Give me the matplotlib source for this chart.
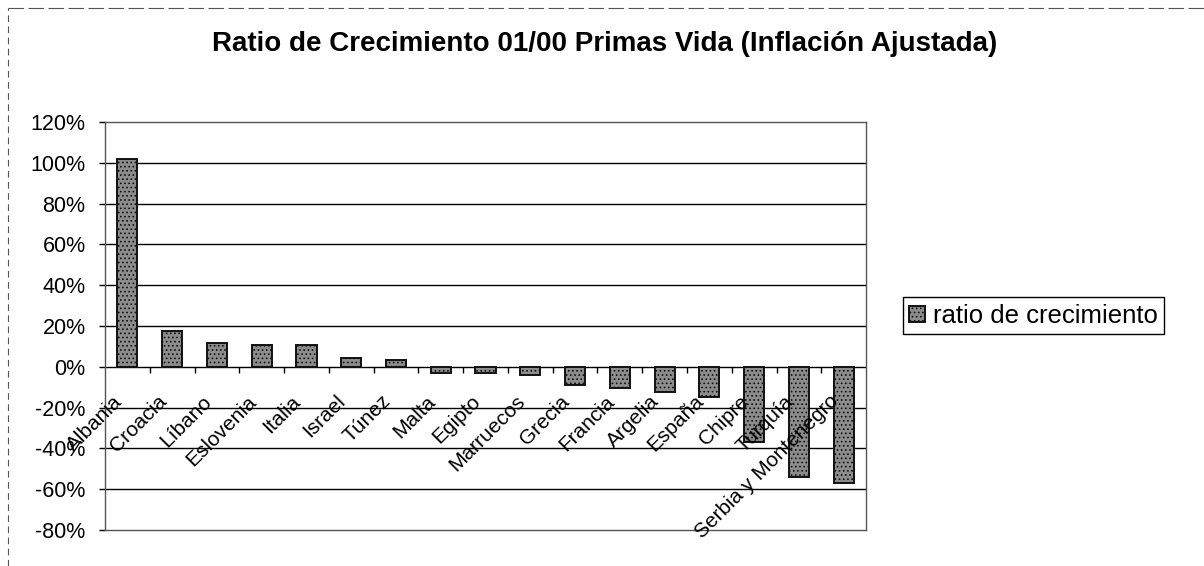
import matplotlib
matplotlib.use('Agg')
import matplotlib.pyplot as plt
from matplotlib.lines import Line2D
import numpy as np

# Data (growth ratio, fraction)
paises = ['Albania', 'Croacia', 'Líbano', 'Eslovenia', 'Italia', 'Israel', 'Túnez',
          'Malta', 'Egipto', 'Marruecos', 'Grecia', 'Francia', 'Argelia', 'España',
          'Chipre', 'Turquía', 'Serbia y Montenegro']
ratio = [1.02, 0.173, 0.118, 0.107, 0.107, 0.043, 0.034,
         -0.032, -0.032, -0.041, -0.088, -0.104, -0.123, -0.149,
         -0.37, -0.538, -0.568]
yticks = [-0.8, -0.6, -0.4, -0.2, 0.0, 0.2, 0.4, 0.6, 0.8, 1.0, 1.2]

plt.rcParams['font.family'] = ['Liberation Sans', 'DejaVu Sans']
plt.rcParams['hatch.linewidth'] = 0.7

fig = plt.figure(figsize=(12.04, 5.66), dpi=100)
ax = fig.add_axes([0.0872, 0.0636, 0.6321, 0.7209])

x = np.arange(len(paises))
ax.bar(x, ratio, width=0.45, color='#8c8c8c', edgecolor='#111111', linewidth=1.4,
       hatch='....', label='ratio de crecimiento', zorder=3)

ax.set_xlim(-0.5, len(paises) - 0.5)
ax.set_ylim(-0.8, 1.2)
ax.set_yticks(yticks)
ax.set_yticklabels([f'{int(round(v * 100))}%' for v in yticks], fontsize=15.5)
ax.tick_params(axis='y', length=4, width=1, pad=10)
ax.set_xticks([])
for v in yticks[1:-1]:
    ax.axhline(v, color='black', linewidth=1.0, zorder=1)
for s in ax.spines.values():
    s.set_color('#555555')
    s.set_linewidth(1.0)

# small category ticks hanging below the zero line
ax.plot(x[:-1] + 0.5, np.zeros(len(x) - 1), linestyle='none', marker=3,
        markersize=4, color='black', zorder=2)

# category labels hang off the zero line, rotated 45 degrees
for i, name in enumerate(paises):
    ax.annotate(name, xy=(i, 0), xycoords='data', xytext=(-11, -18),
                textcoords='offset points', ha='right', va='top',
                rotation=45, rotation_mode='anchor', fontsize=15, zorder=4)

fig.text(0.502, 0.922, 'Ratio de Crecimiento 01/00 Primas Vida (Inflación Ajustada)',
         ha='center', va='center', fontsize=20, fontweight='bold')

leg = fig.legend(loc='center left', bbox_to_anchor=(0.75, 0.442), fontsize=18.5,
                 fancybox=False, framealpha=1, edgecolor='black',
                 handlelength=0.6, handleheight=0.6, handletextpad=0.3,
                 borderpad=0.25, borderaxespad=0)
leg.get_frame().set_linewidth(1.0)

# dashed outer border of the chart area (top and left visible)
fig.add_artist(Line2D([8 / 1204, 8 / 1204], [0.0, 1 - 8 / 566], transform=fig.transFigure,
                      color='#555555', linewidth=0.8, linestyle=(0, (6, 4))))
fig.add_artist(Line2D([8 / 1204, 1.0], [1 - 8 / 566, 1 - 8 / 566], transform=fig.transFigure,
                      color='#555555', linewidth=0.8, linestyle=(0, (14, 4))))

fig.savefig('out.png', dpi=100)
